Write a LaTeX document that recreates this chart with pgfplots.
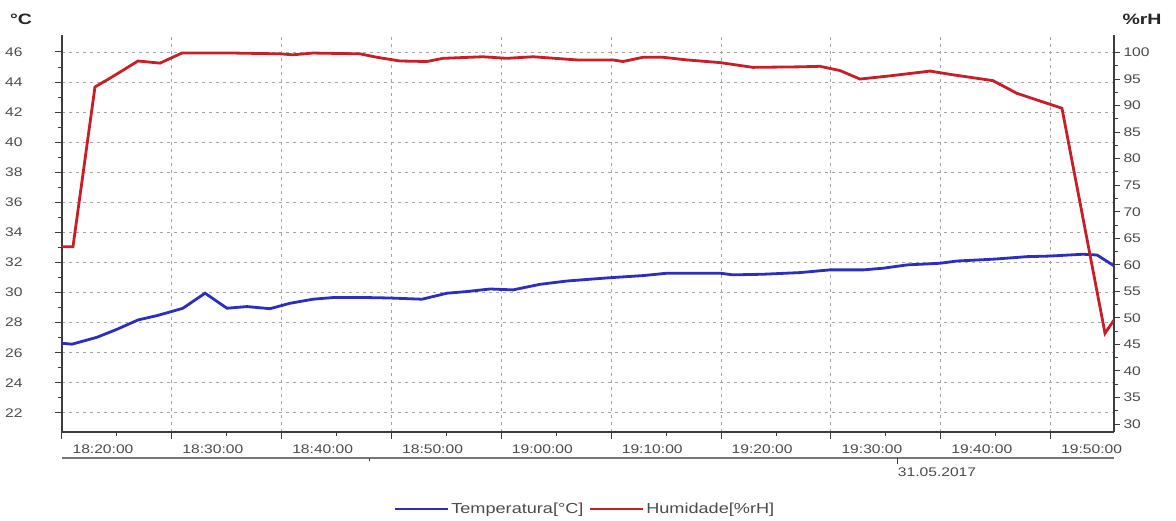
\documentclass[border=0pt]{standalone}
\usepackage{pgfplots}
\pgfplotsset{compat=1.18}
\usepackage{fontspec}
\setmainfont{Liberation Sans}
\usepackage{graphicx}
\definecolor{tcol}{RGB}{45,45,190}
\definecolor{hcol}{RGB}{200,30,40}
\definecolor{txt}{RGB}{75,75,75}
\definecolor{gridc}{RGB}{165,165,165}
\definecolor{axc}{RGB}{60,60,60}
\newcommand{\sx}[1]{\scalebox{1.25}[1]{#1}}
\begin{document}
\begin{tikzpicture}[x=1pt,y=1pt]
\path[use as bounding box] (0,0) rectangle (1176,521);
\begin{axis}[
  at={(62pt,89pt)}, anchor=south west,
  scale only axis, width=1052pt, height=397pt,
  xmin=0, xmax=95.77, ymin=20.73, ymax=47.13,
  axis x line*=bottom, axis y line*=left,
  axis line style={axc, line width=1.1pt},
  tick style={axc, line width=1pt},
  tick align=outside,
  major tick length=7pt, minor tick length=4pt,
  xtick={0,10,...,90}, minor x tick num=1,
  xticklabels={\sx{18:20:00},\sx{18:30:00},\sx{18:40:00},\sx{18:50:00},\sx{19:00:00},\sx{19:10:00},\sx{19:20:00},\sx{19:30:00},\sx{19:40:00},\sx{19:50:00}},
  ytick={22,24,...,46}, minor y tick num=1,
  yticklabels={\sx{22},\sx{24},\sx{26},\sx{28},\sx{30},\sx{32},\sx{34},\sx{36},\sx{38},\sx{40},\sx{42},\sx{44},\sx{46}},
  ticklabel style={font=\fontsize{12.5}{14}\selectfont, text=txt},
  xticklabel style={anchor=center, xshift=41pt, yshift=-10pt},
  yticklabel style={anchor=east, xshift=-29pt},
  grid=major,
  major grid style={gridc, line width=0.9pt, dash pattern=on 3pt off 4pt},
  legend columns=2,
  legend style={draw=none, fill=none, at={(axis description cs:0.497,-0.194)}, anchor=center,
    font=\fontsize{14.5}{16}\selectfont, text=txt,
    /tikz/every even column/.append style={column sep=3pt}},
  legend image code/.code={\draw[#1] (0pt,0pt) -- (53pt,0pt);},
]
\addplot[tcol, line width=2.8pt] coordinates {
(0,26.63)(0.91,26.57)(3.19,27.03)(5.01,27.56)(6.92,28.18)(8.65,28.47)(9.83,28.71)(11.01,28.96)(13.02,29.96)(15.02,28.96)(16.84,29.07)(18.93,28.93)(20.76,29.29)(22.85,29.56)(24.67,29.67)(27.77,29.67)(29.86,29.64)(32.77,29.56)(35.05,29.96)(36.87,30.07)(38.96,30.24)(41.06,30.18)(43.51,30.55)(45.97,30.77)(49.89,30.99)(52.89,31.13)(55.08,31.29)(59.90,31.29)(61.08,31.18)(63.81,31.22)(67.18,31.33)(69.91,31.51)(72.92,31.51)(74.74,31.62)(76.92,31.84)(79.93,31.95)(81.47,32.1)(84.75,32.22)(87.85,32.39)(89.94,32.43)(92.95,32.55)(94.22,32.5)(95.77,31.78)
};
\addlegendentry{\sx{Temperatura[°C]}}
\addlegendimage{hcol, line width=2.8pt}
\addlegendentry{\sx{Humidade[\%rH]}}
\end{axis}
\begin{axis}[
  at={(62pt,89pt)}, anchor=south west,
  scale only axis, width=1052pt, height=397pt,
  xmin=0, xmax=95.77, ymin=28.5, ymax=103.3,
  axis x line=none, axis y line*=right,
  axis line style={axc, line width=1.1pt},
  tick style={axc, line width=1pt},
  tick align=outside,
  major tick length=6pt, minor tick length=4pt,
  ytick={30,35,...,100}, minor y tick num=1,
  yticklabels={\sx{30},\sx{35},\sx{40},\sx{45},\sx{50},\sx{55},\sx{60},\sx{65},\sx{70},\sx{75},\sx{80},\sx{85},\sx{90},\sx{95},\sx{100}},
  ticklabel style={font=\fontsize{12.5}{14}\selectfont, text=txt},
  yticklabel style={anchor=west, xshift=0pt},
]
\addplot[hcol, line width=2.8pt] coordinates {
(0,63.4)(1.0,63.4)(3.0,93.5)(4.64,95.5)(6.92,98.4)(8.92,98.0)(10.92,99.9)(15.56,99.9)(19.84,99.75)(21.03,99.57)(22.85,99.9)(27.13,99.75)(28.67,99.1)(30.77,98.4)(33.22,98.3)(34.68,98.9)(38.32,99.2)(40.5,98.9)(42.88,99.2)(46.88,98.6)(50.16,98.6)(51.07,98.3)(52.89,99.1)(54.71,99.1)(56.9,98.6)(59.9,98.1)(62.9,97.2)(67.18,97.3)(69.0,97.4)(70.82,96.6)(72.64,95.0)(75.38,95.6)(79.02,96.5)(81.11,95.8)(84.75,94.7)(86.94,92.3)(91.03,89.5)(94.95,47.1)(95.77,49.6)
};
\end{axis}
\draw[axc!70, line width=1.1pt] (62,63) -- (1114,63);
\draw[axc, line width=1pt] (897,63) -- (897,57);
\draw[axc, line width=1pt] (369,63) -- (369,60);
\node[font=\fontsize{12.5}{14}\selectfont, text=txt] at (937,49) {\sx{31.05.2017}};
\node[font=\bfseries\fontsize{15}{17}\selectfont, text=black!85] at (21,502) {\scalebox{1.3}[1]{°C}};
\node[font=\bfseries\fontsize{15}{17}\selectfont, text=black!85] at (1142,502) {\scalebox{1.3}[1]{\%rH}};
\end{tikzpicture}
\end{document}
